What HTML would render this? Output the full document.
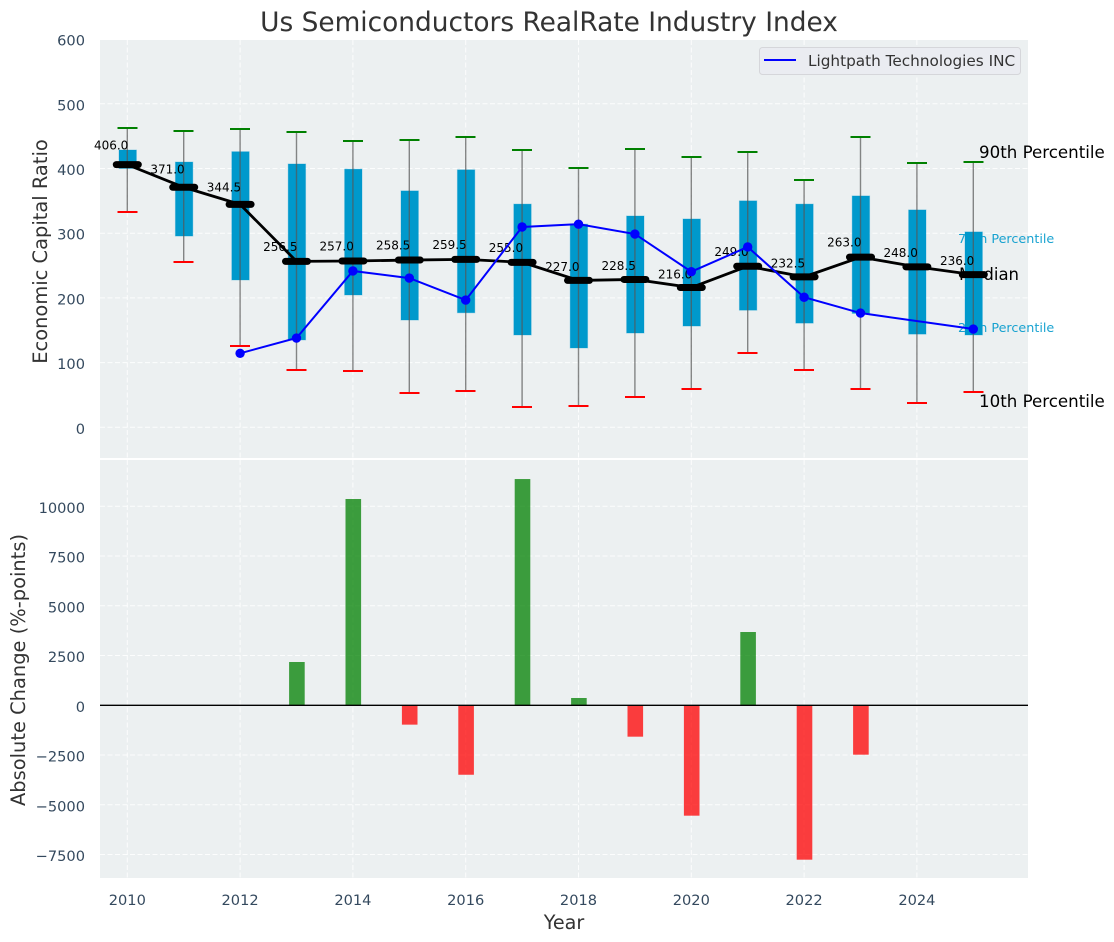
<!DOCTYPE html>
<html lang="en">
<head>
<meta charset="utf-8">
<title>Us Semiconductors RealRate Industry Index</title>
<style>
html,body{margin:0;padding:0;background:#fff;width:1114px;height:942px;overflow:hidden}
svg{display:block;font-family:"DejaVu Sans","Liberation Sans",sans-serif}
</style>
</head>
<body>
<svg id="chart" xmlns="http://www.w3.org/2000/svg" width="1114" height="942" viewBox="0 0 1114 942">
  <rect x="100" y="40" width="928" height="418" fill="#ecf0f1"/>
  <rect x="100" y="460" width="928" height="418" fill="#ecf0f1"/>
  <g id="grid"></g>
  <g id="notes">
    <text x="979" y="158" font-size="16.67" fill="#000">90th Percentile</text>
    <text x="979" y="407" font-size="16.67" fill="#000">10th Percentile</text>
    <text x="959" y="280" font-size="16.5" fill="#000">Median</text>
    <text x="958" y="243" font-size="12.75" fill="#0099cc" fill-opacity="0.9">75th Percentile</text>
    <text x="958" y="332" font-size="12.75" fill="#0099cc" fill-opacity="0.9">25th Percentile</text>
  </g>
  <g id="marks"></g>
  <g id="ticks" fill="#34495e" font-size="14.6"></g>

  <text x="549" y="31" text-anchor="middle" font-size="26.4" fill="#333333">Us Semiconductors RealRate Industry Index</text>
  <text transform="translate(47,251.5) rotate(-90)" text-anchor="middle" font-size="19.44" fill="#333333">Economic Capital Ratio</text>
  <text transform="translate(25,670) rotate(-90)" text-anchor="middle" font-size="19.44" fill="#333333">Absolute Change (%-points)</text>
  <text x="564" y="929" text-anchor="middle" font-size="19.2" fill="#333333">Year</text>

  <g>
    <rect x="759.5" y="47.5" width="261" height="27" rx="3" fill="#eaecf1" stroke="#d5d6da"/>
    <line x1="764" y1="60" x2="796" y2="60" stroke="#0000ff" stroke-width="2"/>
    <text x="808" y="66" font-size="15.28" fill="#333333">Lightpath Technologies INC</text>
  </g>
</svg>
<script>
const years = [2010,2011,2012,2013,2014,2015,2016,2017,2018,2019,2020,2021,2022,2023,2024,2025];
const p90 = [462.6,458,461,456.5,442.5,444,449,428.6,400.8,430,418,425.5,382,449,408.6,410];
const p75 = [428.6,410,426,407,399,365.4,398,345,314,326.6,322,350,345,357.6,336,302];
const medians = [406,371,344.5,256.5,257,258.5,259.5,255,227,228.5,216,249,232.5,263,248,236];
const medianLabels = ["406.0","371.0","344.5","256.5","257.0","258.5","259.5","255.0","227.0","228.5","216.0","249.0","232.5","263.0","248.0","236.0"];
const p25 = [400,295.6,227.7,135,204.5,165.8,177,142.7,122.6,145.7,156.5,181,161,176,144,142.7];
const p10 = [333,255.6,125.6,88.6,87,53,56,31.4,33,46.8,59,115,88.6,59,37.6,54.6];
const company = [null,null,114.4,138,241.6,230.6,196.6,309.6,314,298.7,240.5,278.7,201,176.6,null,151.9];
const changes = [null,null,null,2176,10367,-972,-3490,11370,367,-1577,-5547,3683,-7758,-2482,null,null];
const topTicks = [0,100,200,300,400,500,600];
const bottomTicks = [-7500,-5000,-2500,0,2500,5000,7500,10000];
const xTicks = [2010,2012,2014,2016,2018,2020,2022,2024];

const X = y => 127.3 + (y - 2010) * 56.4;
const YT = v => 427.3 - v * 0.647;
const YB = v => 705.3 - v * 0.0199;
const NS = 'http://www.w3.org/2000/svg';
function mk(parent, tag, props, txt) {
  const el = document.createElementNS(NS, tag);
  for (const k in props) el.setAttribute(k, props[k]);
  if (txt !== undefined) el.textContent = txt;
  parent.appendChild(el);
  return el;
}
const grid = document.getElementById('grid');
const marks = document.getElementById('marks');
const ticks = document.getElementById('ticks');
const gridStyle = {stroke:'#ffffff','stroke-width':1,'stroke-dasharray':'5 2.5','stroke-opacity':0.85};

xTicks.forEach(t => {
  const a = mk(grid,'line',Object.assign({x1:X(t),x2:X(t),y1:40,y2:458},gridStyle));
  
  
  const b = mk(grid,'line',Object.assign({x1:X(t),x2:X(t),y1:460,y2:878},gridStyle));
  
  
  const l = mk(ticks,'text',{x:X(t),y:905,'text-anchor':'middle'},String(t));
  
  
});
topTicks.forEach(t => {
  const a = mk(grid,'line',Object.assign({x1:100,x2:1028,y1:YT(t),y2:YT(t)},gridStyle));
  
  
  const l = mk(ticks,'text',{x:85,y:YT(t)+6.5,'text-anchor':'end'},String(t));
  
  
});
bottomTicks.forEach(t => {
  const a = mk(grid,'line',Object.assign({x1:100,x2:1028,y1:YB(t),y2:YB(t)},gridStyle));
  
  
  const l = mk(ticks,'text',{x:85,y:YB(t)+6.5,'text-anchor':'end'},String(t).replace('-','\u2212'));
  
  
});

years.forEach((yr,i) => {
  const x = X(yr) + 0.4;
  const box = mk(marks,'rect',{x:x-8.7,y:YT(p75[i]),width:17.4,height:YT(p25[i])-YT(p75[i]),fill:'#0099cc',stroke:'#0099cc','stroke-opacity':0.3,'stroke-width':1});
  
  
});
years.forEach((yr,i) => {
  const x = X(yr);
  const w = mk(marks,'line',{x1:x,x2:x,y1:YT(p90[i]),y2:YT(p10[i]),stroke:'#555555','stroke-opacity':0.7,'stroke-width':1.4});
  
  
  const c1 = mk(marks,'line',{x1:x-10,x2:x+10,y1:YT(p90[i]),y2:YT(p90[i]),stroke:'#008000','stroke-width':2,'shape-rendering':'crispEdges'});
  
  
  const c2 = mk(marks,'line',{x1:x-10,x2:x+10,y1:YT(p10[i]),y2:YT(p10[i]),stroke:'#ff0000','stroke-width':2,'shape-rendering':'crispEdges'});
  
  
});
const medPath = mk(marks,'polyline',{points:years.map((y,i)=>X(y)+','+YT(medians[i])).join(' '),fill:'none',stroke:'#000','stroke-width':2.8});


years.forEach((yr,i) => {
  const x = X(yr);
  const m = mk(marks,'line',{x1:x-11,x2:x+11,y1:YT(medians[i]),y2:YT(medians[i]),stroke:'#000','stroke-width':7,'stroke-linecap':'round'});
  
  
  const t = mk(marks,'text',{x:x+1,y:YT(medians[i]*1.05)-2,'text-anchor':'end','font-size':12,fill:'#000'},medianLabels[i]);
  
  
});
const pts = years.map((y,i)=>[y,company[i]]).filter(p=>p[1]!==null);
const coLine = mk(marks,'polyline',{points:pts.map(p=>X(p[0])+','+YT(p[1])).join(' '),fill:'none',stroke:'#0000ff','stroke-width':2});


pts.forEach(p => {
  const c = mk(marks,'circle',{cx:X(p[0]),cy:YT(p[1]),r:4.7,fill:'#0000ff'});
  
  
});
years.forEach((yr,i) => {
  const v = changes[i];
  if (v === null) return;
  const top = Math.min(YB(v),YB(0));
  const h = Math.abs(YB(v)-YB(0));
  const col = v >= 0 ? '#008000' : '#ff0000';
  const b = mk(marks,'rect',{x:X(yr)+0.4-7.8,y:top,width:15.6,height:h,fill:col,'fill-opacity':0.75});
  
  
});
const zero = mk(marks,'line',{x1:100,x2:1028,y1:YB(0),y2:YB(0),stroke:'#000','stroke-width':1.4});


</script>
</body>
</html>
